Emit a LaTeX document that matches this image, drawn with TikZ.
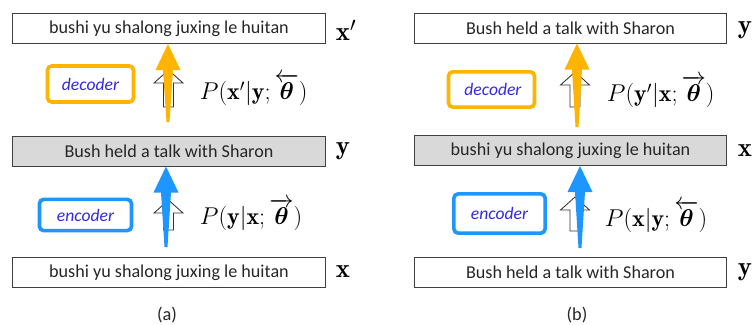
\documentclass[tikz,border=0pt]{standalone}
\usepackage{amsmath}
\usepackage{fontspec}
\newfontfamily\carlito{Carlito}
\usetikzlibrary{calc}

\definecolor{decorange}{RGB}{255,180,0}
\definecolor{encblue}{RGB}{30,150,255}
\definecolor{modtext}{RGB}{50,40,230}
\definecolor{boxgray}{RGB}{217,217,217}

\tikzset{
  sent/.style={draw=black!75, line width=0.7pt, minimum width=7.8cm, minimum height=0.75cm,
    inner sep=0pt, text=black!85, font=\carlito\fontsize{12.9}{14}\selectfont},
  module/.style={draw=#1, line width=2.6pt, rounded corners=3pt, minimum width=2.15cm,
    minimum height=0.9cm, text=modtext, font=\carlito\itshape\fontsize{12.5}{14}\selectfont},
  seqlabel/.style={anchor=west, font=\fontsize{19}{22}\selectfont},
  prob/.style={anchor=west, font=\fontsize{17}{20}\selectfont},
  caption/.style={font=\carlito\fontsize{13}{15}\selectfont, text=black!85}
}

% colour arrow: colour, tail coordinate, tip
\newcommand{\thickarrow}[3]{%
  \fill[#1] (#3) -- ++(-12.5,26) -- ++(7.5,0) -- ($(#2)+(-1.5,0)$) -- ($(#2)+(1.5,0)$)
    -- ($(#3)+(5,26)$) -- ++(7.5,0) -- cycle;}
% outline arrow: top point, shaft length
\newcommand{\hollowarrow}[2]{%
  \draw[black!80, line width=0.6pt, fill=white] (#1) -- ++(14.5,13) -- ++(-9.5,0)
    -- ++(0,#2) -- ++(-10,0) -- ++(0,-#2) -- ++(-9.5,0) -- cycle;}

\begin{document}
\begin{tikzpicture}[x=0.025cm,y=-0.025cm]
\useasboundingbox (0,0) rectangle (755,324);

% (a) 源 -> 目标 -> 源
\node[sent] (atop) at (169,28.5) {bushi yu shalong juxing le huitan};
\node[sent, fill=boxgray] (amid) at (169,151) {Bush held a talk with Sharon};
\node[sent] (abot) at (169,272.5) {bushi yu shalong juxing le huitan};

\node[seqlabel] (atoplab) at (331,30) {$\mathbf{x}'$};
\node[seqlabel] (amidlab) at (331,151) {$\mathbf{y}$};
\node[seqlabel] (abotlab) at (331,272) {$\mathbf{x}$};

\node[module=decorange] (adec) at (90.5,84) {decoder};
\node[module=encblue, minimum width=2.3cm, minimum height=0.78cm] (aenc) at (85.5,215) {encoder};

\node[prob] (adecp) at (195,90) {$P(\mathbf{x}'|\mathbf{y};\overleftarrow{\boldsymbol{\theta}})$};
\node[prob] (aencp) at (195,215) {$P(\mathbf{y}|\mathbf{x};\overrightarrow{\boldsymbol{\theta}})$};

\hollowarrow{168.5,70}{24}
\hollowarrow{168.5,200}{17}

\coordinate (adectail) at (168,122);
\coordinate (aenctail) at (166,247);
\thickarrow{decorange}{adectail}{atop.south -| adectail}
\thickarrow{encblue}{aenctail}{amid.south -| aenctail}

\node[caption] (acap) at (167,315) {(a)};

% (b) 目标 -> 源 -> 目标
\node[sent] (btop) at (570.5,28) {Bush held a talk with Sharon};
\node[sent, fill=boxgray] (bmid) at (570.5,150.5) {bushi yu shalong juxing le huitan};
\node[sent] (bbot) at (570.5,272.5) {Bush held a talk with Sharon};

\node[seqlabel] (btoplab) at (733,30) {$\mathbf{y}$};
\node[seqlabel] (bmidlab) at (733,151) {$\mathbf{x}$};
\node[seqlabel] (bbotlab) at (733,272) {$\mathbf{y}$};

\node[module=decorange, minimum height=0.88cm] (bdec) at (491.5,89.5) {\,decoder};
\node[module=encblue, minimum width=2.28cm, minimum height=0.98cm] (benc) at (499.5,213.5) {encoder};

\node[prob] (bdecp) at (602,92) {$P(\mathbf{y}'|\mathbf{x};\overrightarrow{\boldsymbol{\theta}})$};
\node[prob] (bencp) at (600,217) {$P(\mathbf{x}|\mathbf{y};\overleftarrow{\boldsymbol{\theta}})$};

\hollowarrow{575,72}{22}
\hollowarrow{575,197}{21}

\coordinate (bdectail) at (577,127);
\coordinate (benctail) at (580,248);
\thickarrow{decorange}{bdectail}{btop.south -| bdectail}
\thickarrow{encblue}{benctail}{bmid.south -| benctail}

\node[caption] (bcap) at (577,315) {(b)};

\end{tikzpicture}
\end{document}
